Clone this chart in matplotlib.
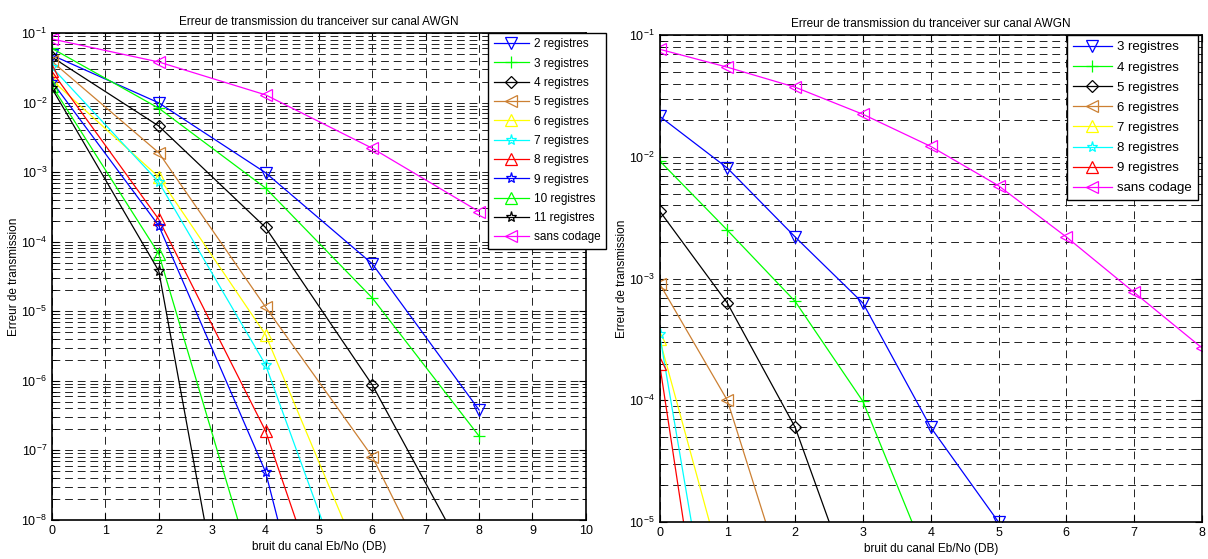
import numpy as np
import matplotlib
matplotlib.use("Agg")
import matplotlib.pyplot as plt
from matplotlib.ticker import LogLocator, LogFormatterMathtext, NullFormatter

plt.rcParams['font.family'] = ['Liberation Sans', 'DejaVu Sans']
plt.rcParams['mathtext.fontset'] = 'custom'
plt.rcParams['mathtext.rm'] = 'Liberation Sans'

# ---- donnees ----
# graphe de gauche : Eb/No = 0, 2, 4, 6, 8 dB
eb_g = [0, 2, 4, 6, 8]
reg2 = [4.8e-2, 9.9e-3, 9.8e-4, 4.8e-5, 3.8e-7]
reg3 = [6.0e-2, 8.3e-3, 5.9e-4, 1.55e-5, 1.6e-7]
reg4 = [4.5e-2, 4.6e-3, 1.6e-4, 8.7e-7, 1.3e-9]
reg5 = [3.9e-2, 1.9e-3, 1.15e-5, 8.1e-8, 6.8e-11]
reg6 = [2.1e-2, 8.5e-4, 4.6e-6, 1.0e-9]
reg7 = [3.2e-2, 7.2e-4, 1.7e-6, 1.0e-10]
reg8 = [2.8e-2, 2.1e-4, 1.9e-7, 6.0e-12]
reg9 = [2.0e-2, 1.7e-4, 4.9e-8, 5.0e-14]
reg10 = [1.74e-2, 6.7e-5, 4.6e-10]
reg11 = [1.6e-2, 3.8e-5, 1.6e-13]
sans_g = [8.2e-2, 3.83e-2, 1.29e-2, 2.2e-3, 2.7e-4]

# graphe de droite : Eb/No = 0..8 dB
eb_d = [0, 1, 2, 3, 4, 5, 6, 7, 8]
d_reg3 = [2.16e-2, 8.1e-3, 2.2e-3, 6.3e-4, 6.0e-5, 1.0e-5]
d_reg4 = [9.3e-3, 2.5e-3, 6.5e-4, 9.8e-5, 4.2e-6]
d_reg5 = [3.6e-3, 6.3e-4, 6.0e-5, 1.7e-6]
d_reg6 = [9.1e-4, 1.0e-4, 1.7e-6]
d_reg7 = [3.2e-4, 2.9e-6]
d_reg8 = [3.5e-4, 1.8e-7]
d_reg9 = [2.0e-4, 4.2e-8]
d_sans = [7.67e-2, 5.46e-2, 3.74e-2, 2.24e-2, 1.22e-2, 5.8e-3, 2.2e-3, 7.7e-4, 2.7e-4]

orange = (0.8, 0.5, 0.2)
series_g = [
    (reg2, 'b', 'v', '2 registres'),
    (reg3, '#00ff00', '+', '3 registres'),
    (reg4, 'k', 'D', '4 registres'),
    (reg5, orange, '<', '5 registres'),
    (reg6, 'yellow', '^', '6 registres'),
    (reg7, 'cyan', '*', '7 registres'),
    (reg8, 'red', '^', '8 registres'),
    (reg9, 'b', '*', '9 registres'),
    (reg10, '#00ff00', '^', '10 registres'),
    (reg11, 'k', '*', '11 registres'),
    (sans_g, 'magenta', '<', 'sans codage'),
]
series_d = [
    (d_reg3, 'b', 'v', '3 registres'),
    (d_reg4, '#00ff00', '+', '4 registres'),
    (d_reg5, 'k', 'D', '5 registres'),
    (d_reg6, orange, '<', '6 registres'),
    (d_reg7, 'yellow', '^', '7 registres'),
    (d_reg8, 'cyan', '*', '8 registres'),
    (d_reg9, 'red', '^', '9 registres'),
    (d_sans, 'magenta', '<', 'sans codage'),
]


def tracer(ax, xs, series, ylim, xmax):
    for vals, col, mk, lab in series:
        ms = 6 if mk == 'D' else 8
        ax.semilogy(xs[:len(vals)], vals, color=col, marker=mk, ms=ms, mfc='none',
                    mec=col, lw=0.9, mew=0.9, label=lab)
    ax.set_xlim(0, xmax)
    ax.set_ylim(*ylim)
    ax.set_xticks(range(0, xmax + 1))
    ax.yaxis.set_major_locator(LogLocator(base=10, numticks=20))
    ax.yaxis.set_minor_locator(LogLocator(base=10, subs=np.arange(2, 10), numticks=20))
    ax.yaxis.set_major_formatter(LogFormatterMathtext())
    ax.yaxis.set_minor_formatter(NullFormatter())
    ax.grid(True, which='major', color='#222222', ls=(0, (8, 5)), lw=0.7)
    ax.grid(True, which='minor', axis='y', color='#222222', ls=(0, (8, 5)), lw=0.7)
    ax.tick_params(which='both', direction='in', top=True, right=True, labelsize=9)
    ax.tick_params(which='major', length=5)
    ax.tick_params(which='minor', length=3)
    for s in ax.spines.values():
        s.set_linewidth(1.2)
    ax.set_title('Erreur de transmission du tranceiver sur canal AWGN', fontsize=8.5)
    ax.set_xlabel('bruit du canal Eb/No (DB)', fontsize=8.5, labelpad=3)
    ax.set_ylabel('Erreur de transmission', fontsize=8.5, labelpad=1)


fig = plt.figure(figsize=(12.08, 5.59), dpi=100)
ax1 = fig.add_axes([0.043, 0.070, 0.442, 0.871])
ax2 = fig.add_axes([0.546, 0.066, 0.449, 0.871])

tracer(ax1, eb_g, series_g, (1e-8, 1e-1), 10)
tracer(ax2, eb_d, series_d, (1e-5, 1e-1), 8)

# (axe, ancrage x, taille police, espacement)
for ax, bx, fs, ls in ((ax1, 1.037, 8.5, 0.62), (ax2, 0.993, 9.5, 0.6)):
    leg = ax.legend(loc='upper right', bbox_to_anchor=(bx, 1.0), fontsize=fs,
                    fancybox=False, framealpha=1, edgecolor='k', borderaxespad=0,
                    handlelength=3.0, labelspacing=ls, handletextpad=0.4,
                    borderpad=0.45)
    leg.get_frame().set_linewidth(1.0)
    leg.set_zorder(10)

fig.savefig('out.png', dpi=100)
